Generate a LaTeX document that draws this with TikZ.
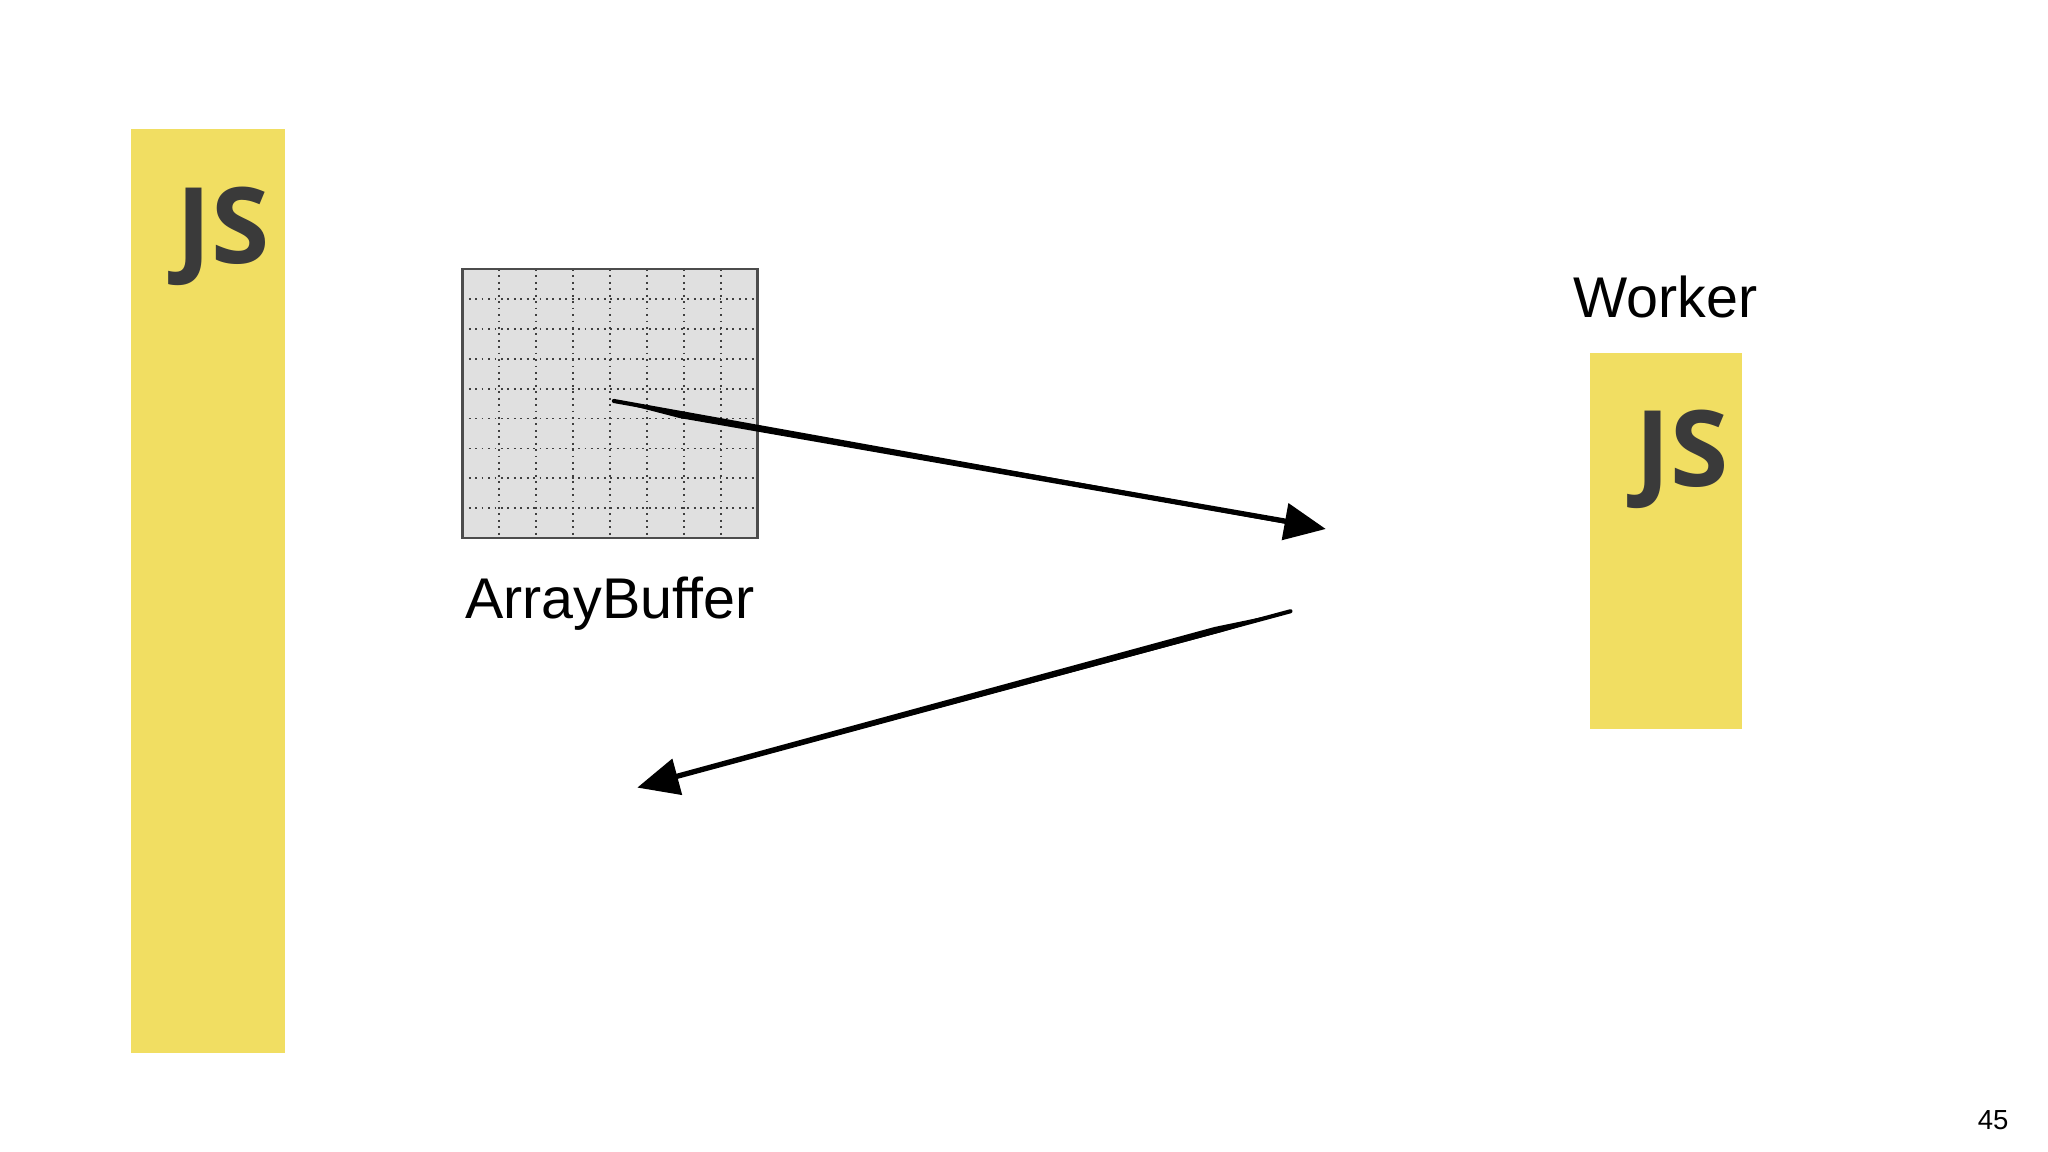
\documentclass[tikz,border=0pt]{standalone}
\usepackage{fontspec}
\setmainfont{Liberation Sans}
\newfontfamily\jsfont{Open Sans}
\usetikzlibrary{arrows.meta}
\definecolor{jsy}{HTML}{F1DE62}
\definecolor{jsd}{HTML}{3A3A3A}
\tikzset{
  jsbar/.style={fill=jsy, draw=none},
  jslabel/.style={font=\jsfont\bfseries\fontsize{23}{23}\selectfont, text=jsd, inner sep=0pt},
  lbl/.style={font=\fontsize{12.5}{13}\selectfont, inner sep=0pt},
  sketch/.style={line width=0.9pt, -{Triangle[length=9pt,width=8pt]}, line cap=round}
}
\begin{document}
\begin{tikzpicture}[x=0.01cm,y=-0.01cm]
\useasboundingbox (0,0) rectangle (1568,882);
\fill[white] (0,0) rectangle (1568,882);
% left JS bar
\fill[jsbar] (100,99) rectangle (218,806);
\node[jslabel] (js1) at (171,181) {JS};
% grid
\fill[black!12] (354,206) rectangle (580,412);
\foreach \i in {1,...,7} \draw[densely dotted, black!75, line width=0.4pt] ({354+\i*226/8},206) -- ({354+\i*226/8},412);
\foreach \j in {1,...,8} \draw[densely dotted, black!75, line width=0.4pt] (354,{206+\j*206/9}) -- (580,{206+\j*206/9});
\draw[black!70, line width=0.5pt] (354,206) rectangle (580,412);
\node[lbl] (ab) at (467,462) {ArrayBuffer};
% worker
\node[lbl] (wk) at (1275,227) {Worker};
\fill[jsbar] (1217,270) rectangle (1334,558);
\node[jslabel] (js2) at (1288,352) {JS};
% arrows
\coordinate (a1s) at (470,307);
\coordinate (a1e) at (1015,405);
\coordinate (a2s) at (988,468);
\coordinate (a2e) at (488,603);
\fill (a1s) -- (520,316) -- (990,398) -- (990,402) -- (520,320) -- cycle;
\draw[sketch] (a1s) -- (a1e);
\fill (a2s) -- (935,484) -- (510,598) -- (512,594) -- (930,480) -- cycle;
\draw[sketch] (a2s) -- (a2e);
\node[font=\fontsize{6}{7}\selectfont, inner sep=0pt] (pg) at (1526,858) {45};
\end{tikzpicture}
\end{document}
